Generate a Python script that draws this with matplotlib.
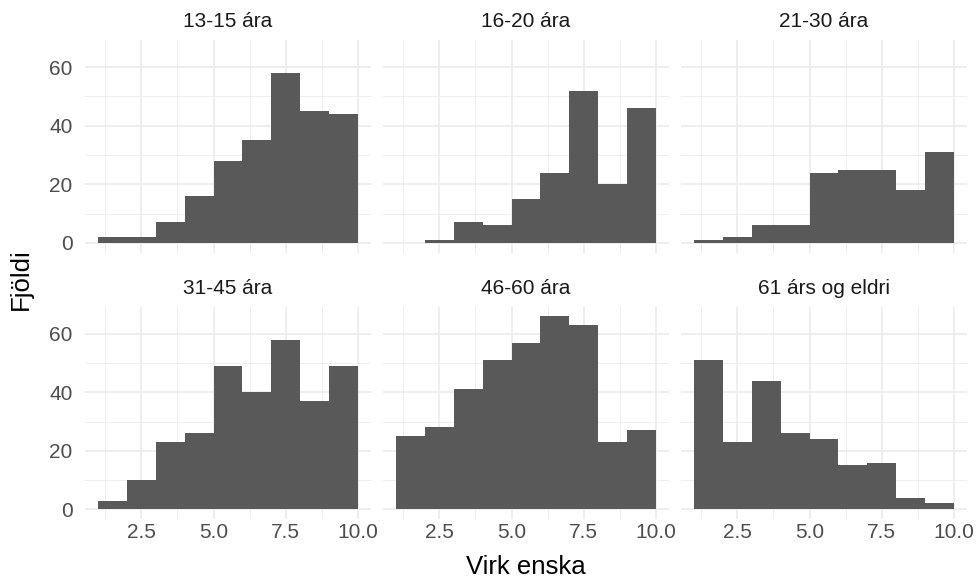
import matplotlib
matplotlib.use("Agg")
import matplotlib.pyplot as plt
import numpy as np

plt.rcParams['font.family'] = ['Liberation Sans', 'DejaVu Sans']

bin_edges = [1, 2, 3, 4, 5, 6, 7, 8, 9, 10]
groups = ["13-15 ára", "16-20 ára", "21-30 ára", "31-45 ára", "46-60 ára", "61 árs og eldri"]
counts_13_15 = [2, 2, 7, 16, 28, 35, 58, 45, 44]
counts_16_20 = [0, 1, 7, 6, 15, 24, 52, 20, 46]
counts_21_30 = [1, 2, 6, 6, 24, 25, 25, 18, 31]
counts_31_45 = [3, 10, 23, 26, 49, 40, 58, 37, 49]
counts_46_60 = [25, 28, 41, 51, 57, 66, 63, 23, 27]
counts_61 = [51, 23, 44, 26, 24, 15, 16, 4, 2]
all_counts = [counts_13_15, counts_16_20, counts_21_30, counts_31_45, counts_46_60, counts_61]
x_ticks = [2.5, 5.0, 7.5, 10.0]
x_tick_labels = ["2.5", "5.0", "7.5", "10.0"]
y_ticks = [0, 20, 40, 60]
y_tick_labels = ["0", "20", "40", "60"]

W, H = 977, 582
fig = plt.figure(figsize=(W / 100, H / 100), dpi=100)
fig.patch.set_facecolor("white")

lefts = [85, 383, 681]
width = 286
tops = [40, 306.5]
height = 212.5
strip_y = [21.5, 288.5]

edges = np.array(bin_edges, dtype=float)
xmin, xmax = edges[0], edges[-1]
xpad = (xmax - xmin) * 0.05
ymax_data = max(max(c) for c in all_counts)
ypad = ymax_data * 0.05

grid_col = "#EBEBEB"
for i, (name, counts) in enumerate(zip(groups, all_counts)):
    r, c = divmod(i, 3)
    ax = fig.add_axes([lefts[c] / W, 1 - (tops[r] + height) / H, width / W, height / H])
    ax.set_facecolor("white")
    ax.set_xlim(xmin - xpad, xmax + xpad)
    ax.set_ylim(-ypad, ymax_data + ypad)
    for xv in [1.25, 3.75, 6.25, 8.75]:
        ax.axvline(xv, color=grid_col, lw=0.6, zorder=0)
    for xv in x_ticks:
        ax.axvline(xv, color=grid_col, lw=1.2, zorder=0)
    for yv in [10, 30, 50]:
        ax.axhline(yv, color=grid_col, lw=0.6, zorder=0)
    for yv in y_ticks:
        ax.axhline(yv, color=grid_col, lw=1.2, zorder=0)
    ax.bar(edges[:-1], counts, width=np.diff(edges), align="edge", color="#595959",
           linewidth=0, zorder=2)
    for s in ax.spines.values():
        s.set_visible(False)
    ax.set_xticks(x_ticks)
    ax.set_yticks(y_ticks)
    ax.tick_params(axis="x", length=0, labelsize=15, labelcolor="#4D4D4D", pad=3)
    ax.tick_params(axis="y", length=0, labelsize=15, labelcolor="#4D4D4D", pad=9)
    if r == 1:
        ax.set_xticklabels(x_tick_labels)
    else:
        ax.set_xticklabels([])
    if c == 0:
        ax.set_yticklabels(y_tick_labels)
    else:
        ax.set_yticklabels([])
    fig.text((lefts[c] + width / 2) / W, 1 - strip_y[r] / H, name, ha="center", va="center",
             fontsize=15, color="#1A1A1A")

fig.text(526 / W, 1 - 567 / H, "Virk enska", ha="center", va="center", fontsize=18.5, color="black")
fig.text(21 / W, 1 - 279 / H, "Fjöldi", ha="center", va="center", rotation=90, fontsize=18.5, color="black")

fig.savefig("out.png", dpi=100, facecolor="white")
